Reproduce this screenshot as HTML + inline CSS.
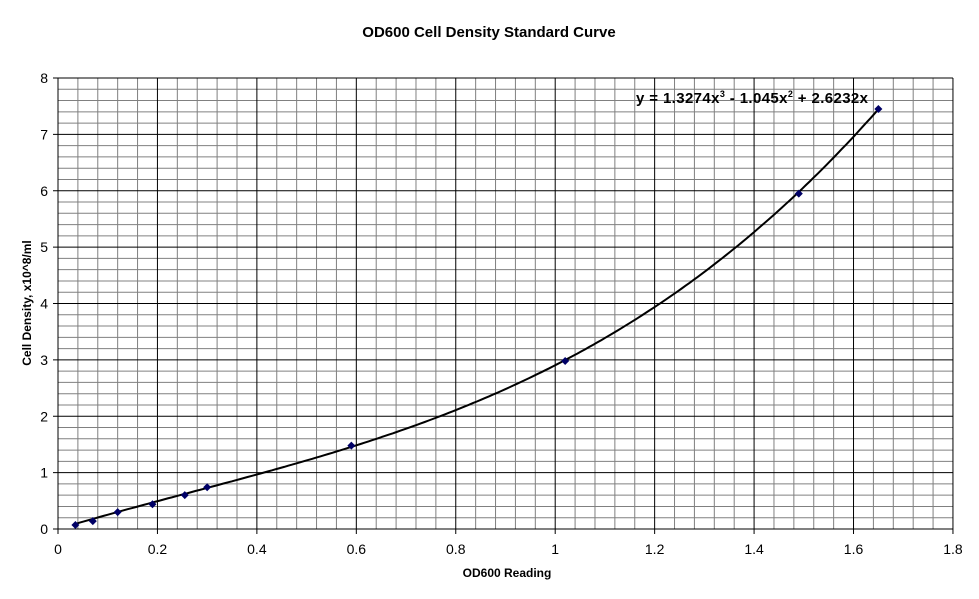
<!DOCTYPE html>
<html><head><meta charset="utf-8"><style>
html,body{margin:0;padding:0;background:#fff;}
svg{display:block;font-family:"Liberation Sans",Arial,sans-serif;}
</style></head><body>
<svg id="s" width="979" height="599" viewBox="0 0 979 599" xmlns="http://www.w3.org/2000/svg">
<rect width="979" height="599" fill="#fff"/>
<text x="489" y="37" text-anchor="middle" font-size="15" font-weight="bold">OD600 Cell Density Standard Curve</text>
<text x="507" y="577" text-anchor="middle" font-size="12" font-weight="bold">OD600 Reading</text>
<text transform="translate(31,303) rotate(-90)" text-anchor="middle" font-size="12" font-weight="bold">Cell Density, x10^8/ml</text>
<g id="g"></g>
<text x="636" y="103" font-size="15" font-weight="bold" textLength="232">y = 1.3274x<tspan dy="-6" font-size="9">3</tspan><tspan dy="6"> - 1.045x</tspan><tspan dy="-6" font-size="9">2</tspan><tspan dy="6"> + 2.6232x</tspan></text>
</svg>
<script>
var X0=58,XS=497.2,Y0=529,YS=56.375,ns="http://www.w3.org/2000/svg",g=document.getElementById('g');
function px(x){return X0+x*XS}function py(y){return Y0-y*YS}
function el(t,a){var e=document.createElementNS(ns,t);for(var k in a)e.setAttribute(k,a[k]);g.appendChild(e);return e}
for(var i=0;i<=45;i++){if(i%5==0)continue;var x=px(i*0.04);el('line',{x1:x,y1:py(8),x2:x,y2:Y0,stroke:'#808080','stroke-width':1})}
for(var i=0;i<=40;i++){if(i%5==0)continue;var y=py(i*0.2);el('line',{x1:X0,y1:y,x2:px(1.8),y2:y,stroke:'#808080','stroke-width':1})}
for(var i=0;i<=9;i++){var x=px(i*0.2);el('line',{x1:x,y1:py(8),x2:x,y2:Y0+5,stroke:'#000','stroke-width':1});
var t=el('text',{x:x,y:554,'text-anchor':'middle','font-size':14});t.textContent=(i==0?'0':(i==5?'1':(i*0.2).toFixed(1)));}
for(var i=0;i<=8;i++){var y=py(i);el('line',{x1:X0-5,y1:y,x2:px(1.8),y2:y,stroke:'#000','stroke-width':1});
var t=el('text',{x:X0-10,y:y+5,'text-anchor':'end','font-size':14});t.textContent=i;}
var d='';for(var k=0;k<=200;k++){var x=0.035+(1.65-0.035)*k/200,y=1.3274*x*x*x-1.045*x*x+2.6232*x;d+=(k?'L':'M')+px(x).toFixed(1)+' '+py(y).toFixed(1)}
el('path',{d:d,fill:'none',stroke:'#000','stroke-width':2});
var pts=[[0.035,0.07],[0.07,0.14],[0.12,0.3],[0.19,0.44],[0.255,0.6],[0.3,0.74],[0.59,1.48],[1.02,2.98],[1.49,5.95],[1.65,7.45]];
pts.forEach(function(p){var x=px(p[0]),y=py(p[1]);el('path',{d:'M'+x+' '+(y-4)+'L'+(x+4)+' '+y+'L'+x+' '+(y+4)+'L'+(x-4)+' '+y+'Z',fill:'#000066'})});
</script>
</body></html>
